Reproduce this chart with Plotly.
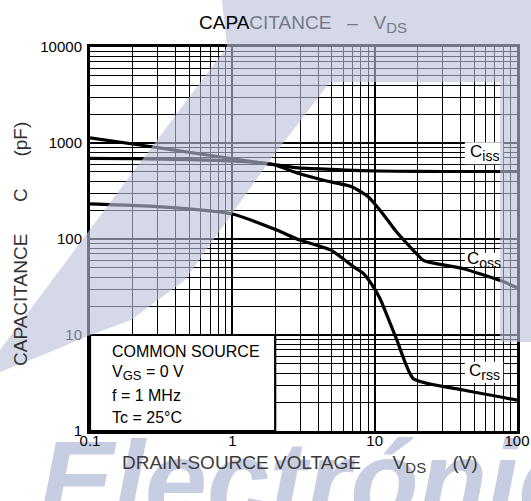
import plotly.graph_objects as go
import math

# values: V_DS in volts, capacitance in pF
vds_ciss = [0.1, 0.25, 0.5, 1, 1.9, 2.9, 5, 8, 14, 30, 100]
ciss = [1130, 930, 800, 686, 600, 550, 530, 515, 508, 505, 505]

vds_coss = [0.1, 0.2, 0.5, 1, 1.9, 2.9, 4.3, 6.9, 9, 11.3, 13.9, 17.7, 22, 26, 42, 80, 100]
coss = [690, 685, 670, 650, 600, 483, 412, 351, 276, 187, 124, 83, 60, 56, 49, 36, 31]

vds_crss = [0.1, 0.3, 1, 2.05, 2.9, 4.9, 7.3, 8.3, 9.5, 10.9, 14.3, 18.7, 42, 100]
crss = [232, 217, 182, 124, 99, 77, 50, 44, 34, 24, 8.9, 3.5, 2.67, 2.1]

x_ticks = [0.1, 1, 10, 100]
x_ticktext = ["0.1", "1", "10", "100"]
y_ticks = [1, 10, 100, 1000, 10000]
y_ticktext = ["1", "10", "100", "1000", "10000"]

W, H = 531, 501
L, R, T, B = 90, 14, 47, 70
pw, ph = W - L - R, H - T - B


def fx(px):  # pixel -> paper
    return (px - L) / pw


def fy(py):
    return (H - B - py) / ph


def dx(v):  # data -> paper
    return (math.log10(v) + 1) / 3


def dy(v):
    return math.log10(v) / 4


def minors(lo, hi):
    out = []
    d = lo
    while d < hi:
        out += [round(k * d, 6) for k in range(2, 10)]
        d *= 10
    return out


def sub(s, size):
    return f"<sub><span style='font-size:{size}px'>{s}</span></sub>"


fig = go.Figure()
line = dict(color="black", width=3.2, shape="spline", smoothing=0.5)
fig.add_trace(go.Scatter(x=vds_ciss, y=ciss, mode="lines", line=line, name="Ciss"))
fig.add_trace(go.Scatter(x=vds_coss, y=coss, mode="lines", line=line, name="Coss"))
fig.add_trace(go.Scatter(x=vds_crss, y=crss, mode="lines", line=line, name="Crss"))

shapes = []
# big watermark lettering behind everything
shapes.append(dict(type="rect", xref="paper", yref="paper", x0=fx(36), x1=fx(760), y0=fy(620), y1=fy(407),
                   line=dict(width=0), fillcolor="rgba(0,0,0,0)", layer="below",
                   label=dict(text="Electrónica", textposition="top left", padding=0,
                              font=dict(family="Liberation Sans", size=112, weight="bold", style="italic",
                                        color="rgb(200,206,226)"))))
# conditions box
shapes.append(dict(type="rect", xref="paper", yref="paper", x0=dx(0.1), x1=dx(2), y0=dy(1), y1=dy(10),
                   fillcolor="white", line=dict(color="black", width=2.2), layer="above"))
# label boxes
for y0, y1 in [(600, 1020), (52, 72), (3.16, 5.25)]:
    shapes.append(dict(type="rect", xref="paper", yref="paper", x0=dx(43), x1=dx(80), y0=dy(y0), y1=dy(y1),
                       fillcolor="white", line=dict(width=0), layer="above"))

# watermark overlay (band + frame)
pts = [(222, 0), (531, 0), (531, 342), (500, 342), (500, 82), (330, 82), (268, 163), (185, 280),
       (131, 320), (88, 336), (50, 352), (0, 372), (0, 350), (127, 180), (227, 47), (222, 0)]
path = "M " + " L ".join(f"{fx(a):.4f},{fy(b):.4f}" for a, b in pts) + " Z"
shapes.append(dict(type="path", xref="paper", yref="paper", path=path,
                   fillcolor="rgba(186,192,216,0.62)", line=dict(width=0), layer="above"))

sp = "\u00a0"
ann = []
ann.append(dict(text=f"DRAIN-SOURCE VOLTAGE{sp*6}V{sub('DS', 15)}{sp*5}(V)", x=fx(300), y=fy(464),
                xanchor="center", yanchor="middle", font=dict(size=19, color="#3c3c3c")))
ann.append(dict(text=f"CAPACITANCE{sp*6}C{sp*6}(pF)", x=fx(21), y=fy(244), textangle=-90,
                xanchor="center", yanchor="middle", font=dict(size=19, color="#333")))
ann.append(dict(text=f"CAPA<span style='color:rgb(118,122,136)'>CITANCE{sp*3}–{sp*3}V{sub('DS', 15)}</span>",
                x=fx(303), y=fy(24), xanchor="center", yanchor="middle",
                font=dict(size=19, color="black")))
for txt, py in [("COMMON SOURCE", 351), (f"V{sub('GS', 13)} = 0 V", 373), ("f = 1 MHz", 395), ("Tc = 25°C", 417)]:
    ann.append(dict(text=txt, x=fx(110), y=fy(py), xanchor="left", yanchor="middle",
                    font=dict(size=16, color="black")))
for s, yc in [("iss", 780), ("oss", 60), ("rss", 4.1)]:
    ann.append(dict(text=f"C{sub(s, 14)}", x=dx(59), y=dy(yc), xanchor="center", yanchor="middle",
                    font=dict(size=17, color="black")))
for a in ann:
    a.update(xref="paper", yref="paper", showarrow=False)

axis_common = dict(type="log", showgrid=True, gridcolor="black", gridwidth=2.4, showline=True,
                   linecolor="black", linewidth=3, mirror=True, ticks="", zeroline=False, automargin=False,
                   tickfont=dict(size=15, color="black"))
fig.update_layout(
    width=W, height=H, margin=dict(l=L, r=R, t=T, b=B),
    paper_bgcolor="white", plot_bgcolor="white", showlegend=False, hovermode=False,
    font=dict(family="Liberation Sans, Arial, sans-serif"),
    xaxis=dict(axis_common, range=[-1, 2], tickvals=x_ticks, ticktext=x_ticktext, ticklabelstandoff=-6,
               minor=dict(tickvals=minors(0.1, 100), showgrid=True, gridcolor="black", gridwidth=1.4)),
    yaxis=dict(axis_common, range=[0, 4], tickvals=y_ticks, ticktext=y_ticktext, ticklabelstandoff=2,
               minor=dict(tickvals=minors(1, 10000), showgrid=True, gridcolor="black", gridwidth=1.4)),
    shapes=shapes, annotations=ann,
)
# drop the browser's default page margin so the figure sits at the window's top-left corner
fig.write_html("out.html", config={"displayModeBar": False},
               post_script="document.body.style.margin='0';document.body.style.overflow='hidden';")
